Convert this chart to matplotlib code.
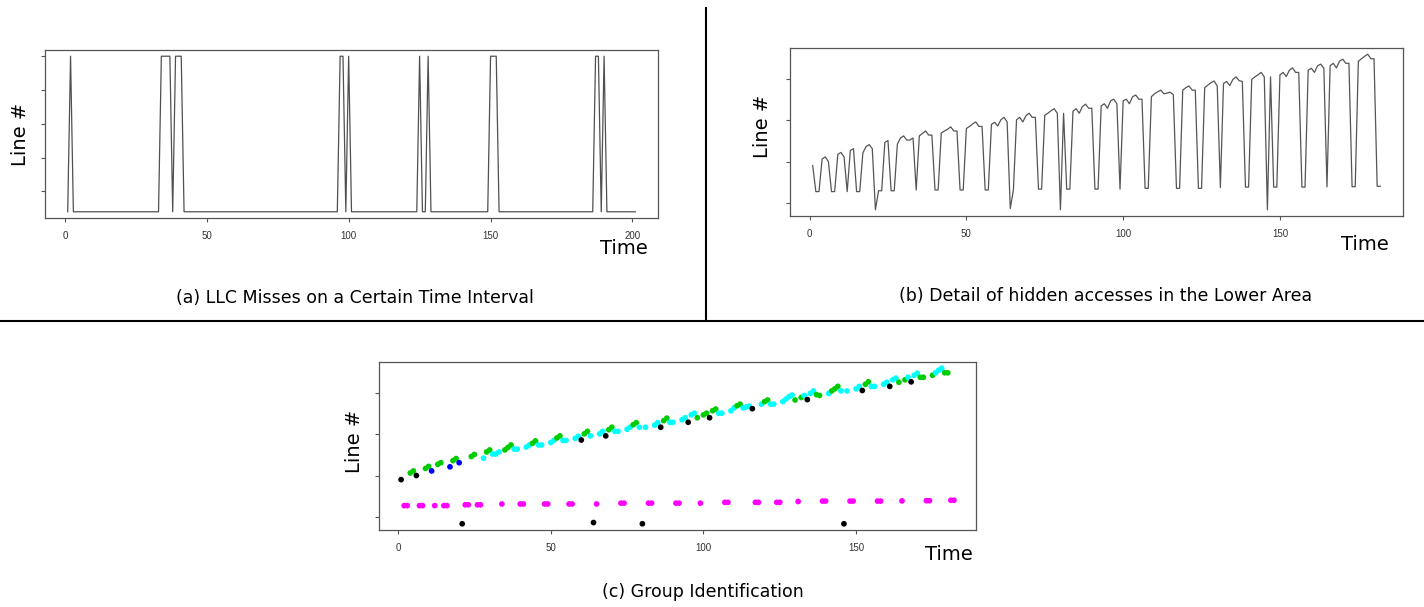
import numpy as np
import matplotlib
matplotlib.use("Agg")
import matplotlib.pyplot as plt
from matplotlib.lines import Line2D

# (a) LLC misses: the line sits at the low level except at these time steps
a_times = np.arange(1, 202)
a_spikes = [2, 34, 35, 36, 37, 39, 40, 41, 97, 98, 100, 125, 128,
            150, 151, 152, 187, 188, 190]
a_low, a_high = 4, 50

# (b)/(c) accessed line per time step (t = 1..182) and its group
bc_line = [
    9.0, 2.7, 2.7, 10.6, 11.1, 10.0, 2.7, 2.7, 11.7, 12.2,
    11.1, 2.7, 12.7, 13.1, 2.7, 2.7, 12.1, 13.6, 14.1, 13.1,
    -1.7, 2.9, 2.9, 14.6, 15.1, 2.9, 2.9, 14.2, 15.7, 16.2,
    15.2, 15.2, 15.7, 3.1, 16.2, 16.8, 17.4, 16.4, 16.4, 3.1,
    3.1, 16.9, 17.4, 17.8, 18.4, 17.4, 17.4, 3.1, 3.1, 18.0,
    18.5, 19.1, 19.6, 18.5, 18.5, 3.1, 3.1, 19.0, 19.5, 18.6,
    20.1, 20.7, 19.6, -1.4, 3.1, 20.1, 20.7, 19.6, 21.1, 21.7,
    20.7, 20.7, 3.3, 3.3, 21.2, 21.7, 22.3, 22.8, 21.7, -1.7,
    21.7, 3.3, 3.3, 22.2, 22.8, 21.7, 23.3, 23.9, 22.9, 22.9,
    3.3, 3.3, 23.5, 24.0, 22.9, 24.7, 25.1, 24.0, 3.3, 24.7,
    25.1, 24.0, 25.7, 26.1, 25.1, 25.1, 3.5, 3.5, 25.7, 26.4,
    26.9, 27.3, 26.4, 26.6, 26.8, 26.2, 3.5, 3.5, 27.3, 27.9,
    28.3, 27.3, 27.3, 3.5, 3.5, 27.9, 28.5, 29.1, 29.5, 28.3,
    3.7, 28.9, 29.4, 28.4, 29.9, 30.5, 29.6, 29.4, 3.8, 3.8,
    29.9, 30.5, 31.0, 31.6, 30.5, -1.7, 30.5, 3.8, 3.8, 31.0,
    31.6, 30.6, 32.1, 32.7, 31.6, 31.6, 3.8, 3.8, 32.1, 32.6,
    31.6, 33.2, 33.6, 32.6, 3.85, 33.2, 33.8, 32.7, 34.3, 34.8,
    33.8, 33.8, 3.9, 3.9, 34.3, 34.9, 35.5, 36.0, 34.9, 34.9,
    4.0, 4.0]
bc_group = ("kmmggkmmgg" "bmggmmbggb" "kmmggmmcgg" "cccmgggccm"
            "mccggccmmc" "cggccmmcck" "ggckmcckgg" "ccmmccggck"
            "cmmcckggcc" "mmcckccgmg" "gkggccmmcc" "ggccckmmcg"
            "gccmmccccg" "mgckccggmm" "cgggckcmmc" "ckggccmmcc"
            "kccgmgckcc" "ggmmgcccgg" "mm")
group_colors = {"g": "#00cd00", "c": "#00ffff", "b": "#0000ff",
                "k": "#000000", "m": "#ff00ff"}

a_xticks = [0, 50, 100, 150, 200]
bc_xticks = [0, 50, 100, 150]
a_yticks = [10, 20, 30, 40, 50]
bc_yticks = [0, 10, 20, 30]

W, H = 1424, 607
fig = plt.figure(figsize=(W / 100, H / 100), dpi=100)


def px_rect(left, top, right, bottom):
    return [left / W, 1 - bottom / H, (right - left) / W, (bottom - top) / H]


def r_style(ax, xticks, yticks):
    ax.margins(x=0.04, y=0.04)
    ax.set_xticks(xticks)
    ax.set_yticks(yticks)
    ax.set_yticklabels([])
    ax.tick_params(direction="out", length=3.2, width=0.8, color="#555555",
                   labelsize=7, labelcolor="#333333", pad=6)
    for lab in ax.get_xticklabels():
        lab.set_family("Liberation Sans")
    for s in ax.spines.values():
        s.set_color("#555555")
        s.set_linewidth(0.9)


# (a)
ax_a = fig.add_axes(px_rect(45, 50, 658, 218))
a_vals = np.where(np.isin(a_times, a_spikes), a_high, a_low)
ax_a.plot(a_times, a_vals, color="#505050", lw=0.9)
r_style(ax_a, a_xticks, a_yticks)
ax_a.set_xlim(-7, 209)

# (b)
t_bc = np.arange(1, len(bc_line) + 1)
ax_b = fig.add_axes(px_rect(790, 48, 1403, 216))
ax_b.plot(t_bc, bc_line, color="#555555", lw=0.9)
r_style(ax_b, bc_xticks, bc_yticks)

# (c)
ax_c = fig.add_axes(px_rect(379, 362, 976, 530))
ax_c.scatter(t_bc, bc_line, s=17, c=[group_colors[g] for g in bc_group],
             linewidths=0, zorder=3)
r_style(ax_c, bc_xticks, bc_yticks)
ax_c.set_xlim(ax_b.get_xlim())
ax_c.set_ylim(ax_b.get_ylim())


def ftext(x, y, s, **kw):
    fig.text(x / W, 1 - y / H, s, ha="center", va="center", **kw)


for (x, y) in [(20, 134), (762, 126), (355, 441)]:
    ftext(x, y, "Line #", fontsize=14, rotation=90)
for (x, y) in [(624, 249), (1365, 244), (949, 555)]:
    ftext(x, y, "Time", fontsize=14)

ftext(355, 298, "(a) LLC Misses on a Certain Time Interval", fontsize=12.5)
ftext(1106, 296, "(b) Detail of hidden accesses in the Lower Area", fontsize=12.5)
ftext(703, 592, "(c) Group Identification", fontsize=12.5)

# divider lines
fig.add_artist(Line2D([706 / W, 706 / W], [1 - 8 / H, 1 - 320 / H],
                      color="black", lw=1.5, transform=fig.transFigure))
fig.add_artist(Line2D([0, 1], [1 - 321 / H, 1 - 321 / H],
                      color="black", lw=1.5, transform=fig.transFigure))

fig.savefig("out.png", dpi=100)
